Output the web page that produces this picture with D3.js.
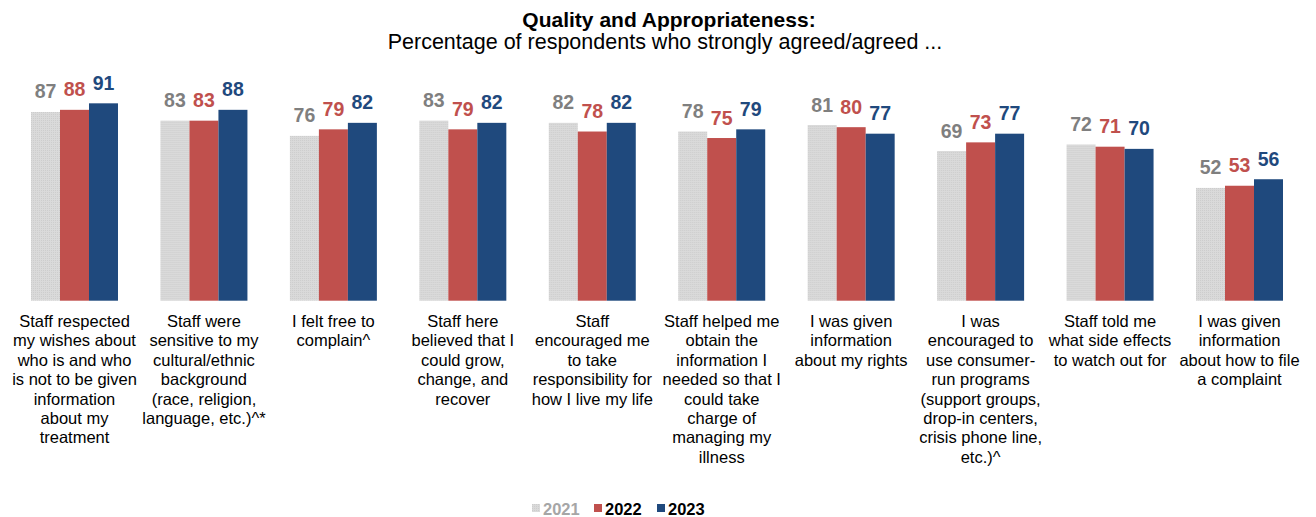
<!DOCTYPE html>
<html>
<head>
<meta charset="utf-8">
<script src="https://cdn.jsdelivr.net/npm/d3@7"></script>
<style>
  body { margin: 0; background: #fff; }
  svg { font-family: "Liberation Sans", Arial, sans-serif; }
</style>
</head>
<body>
<div id="chart"></div>
<script>
// categories, each one already split into its lines
const categories = [
  ["Staff respected", "my wishes about", "who is and who", "is not to be given", "information", "about my", "treatment"],
  ["Staff were", "sensitive to my", "cultural/ethnic", "background", "(race, religion,", "language, etc.)^*"],
  ["I felt free to", "complain^"],
  ["Staff here", "believed that I", "could grow,", "change, and", "recover"],
  ["Staff", "encouraged me", "to take", "responsibility for", "how I live my life"],
  ["Staff helped me", "obtain the", "information I", "needed so that I", "could take", "charge of", "managing my", "illness"],
  ["I was given", "information", "about my rights"],
  ["I was", "encouraged to", "use consumer-", "run programs", "(support groups,", "drop-in centers,", "crisis phone line,", "etc.)^"],
  ["Staff told me", "what side effects", "to watch out for"],
  ["I was given", "information", "about how to file", "a complaint"]
]
const years = ["2021", "2022", "2023"]
const v2021 = [87, 83, 76, 83, 82, 78, 81, 69, 72, 52]
const v2022 = [88, 83, 79, 79, 78, 75, 80, 73, 71, 53]
const v2023 = [91, 88, 82, 82, 82, 79, 77, 77, 70, 56]

const barColor = { "2021": "#d9d9d9", "2022": "#c0504d", "2023": "#1f497d" }
const labelColor = { "2021": "#7f7f7f", "2022": "#c0504d", "2023": "#1f497d" }
const legendText = { "2021": "#a6a6a6", "2022": "#000", "2023": "#000" }

let width = 1316, height = 517
let baseline = 300.7

let rows = categories.map((c, i) => ({
  lines: c,
  values: [
    { year: "2021", v: v2021[i] },
    { year: "2022", v: v2022[i] },
    { year: "2023", v: v2023[i] }
  ]
}))

let svg = d3.select("#chart").append("svg")
  .attr("width", width)
  .attr("height", height)

// light dotted texture for the 2021 bars
let pat = svg.append("defs").append("pattern")
  .attr("id", "dots")
  .attr("width", 2).attr("height", 2)
  .attr("patternUnits", "userSpaceOnUse")
pat.append("rect").attr("width", 2).attr("height", 2).attr("fill", "#dadada")
pat.append("rect").attr("width", 1).attr("height", 1).attr("fill", "#cdcdcd")

let x0 = d3.scaleBand()
  .domain(d3.range(categories.length))
  .range([31, 1283])
  .paddingInner(0.328)

let x1 = d3.scaleBand()
  .domain(years)
  .range([0, x0.bandwidth()])

let y = d3.scaleLinear()
  .domain([0, 100])
  .range([baseline, baseline - 216.9])

// title
svg.append("text")
  .attr("x", 669).attr("y", 27)
  .attr("text-anchor", "middle")
  .style("font-size", "21px").style("font-weight", "bold")
  .text("Quality and Appropriateness:")
svg.append("text")
  .attr("x", 665).attr("y", 49)
  .attr("text-anchor", "middle")
  .style("font-size", "21.5px")
  .text("Percentage of respondents who strongly agreed/agreed ...")

let groups = svg.selectAll(".grp")
  .data(rows)
  .enter()
  .append("g")
  .attr("class", "grp")
  .attr("transform", (d, i) => "translate(" + x0(i) + ",0)")

groups.selectAll(".bar")
  .data(d => d.values)
  .enter()
  .append("rect")
  .attr("class", "bar")
  .attr("x", d => x1(d.year))
  .attr("y", d => y(d.v))
  .attr("width", x1.bandwidth())
  .attr("height", d => y(0) - y(d.v))
  .attr("fill", d => d.year === "2021" ? "url(#dots)" : barColor[d.year])

groups.selectAll(".val")
  .data(d => d.values)
  .enter()
  .append("text")
  .attr("class", "val")
  .attr("x", d => x1(d.year) + x1.bandwidth() / 2)
  .attr("y", d => y(d.v) - 13.5)
  .attr("text-anchor", "middle")
  .style("font-size", "19.5px").style("font-weight", "bold")
  .style("fill", d => labelColor[d.year])
  .text(d => d.v)

// category labels under the bars
groups.append("text")
  .attr("class", "cat")
  .attr("text-anchor", "middle")
  .style("font-size", "16.5px")
  .style("fill", "#000")
  .selectAll("tspan")
  .data(d => d.lines)
  .enter()
  .append("tspan")
  .attr("x", x0.bandwidth() / 2)
  .attr("y", (d, i) => 326.7 + i * 19.45)
  .text(d => d)

// legend
let legendX = [532, 594, 657]
let legend = svg.selectAll(".leg")
  .data(years)
  .enter()
  .append("g")
  .attr("class", "leg")
  .attr("transform", (d, i) => "translate(" + legendX[i] + ",504)")
legend.append("rect")
  .attr("width", 8).attr("height", 8)
  .attr("fill", d => d === "2021" ? "url(#dots)" : barColor[d])
legend.append("text")
  .attr("x", 11).attr("y", 11)
  .style("font-size", "16.5px").style("font-weight", "bold")
  .style("fill", d => legendText[d])
  .text(d => d)
</script>
</body>
</html>
